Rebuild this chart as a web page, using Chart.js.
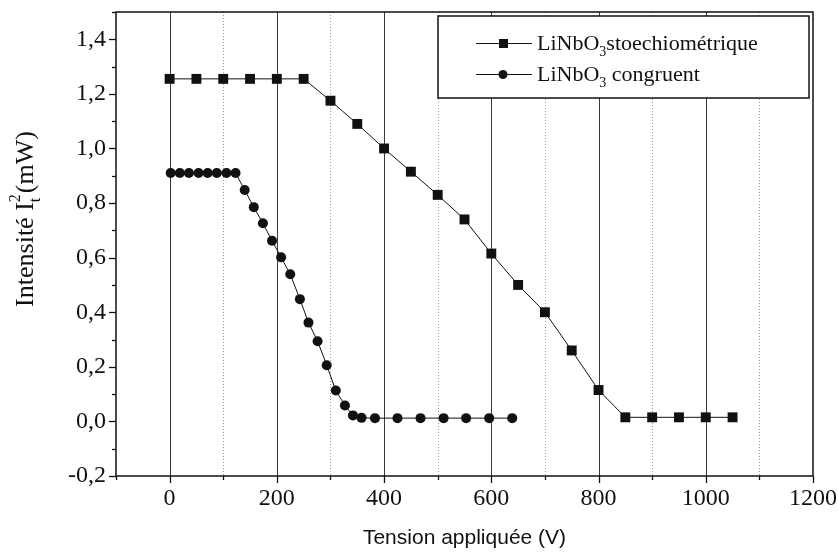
<!DOCTYPE html>
<html>
<head>
<meta charset="utf-8">
<script src="https://cdn.jsdelivr.net/npm/chart.js@4/dist/chart.umd.min.js"></script>
<style>
  html, body { margin: 0; padding: 0; background: #ffffff; }
  #wrap { width: 838px; height: 556px; position: relative; }
</style>
</head>
<body>
<div id="wrap"><canvas id="c" width="838" height="556"></canvas></div>
<script>
// ---- data ----
const seriesLabels = ['LiNbO₃stoechiométrique', 'LiNbO₃ congruent'];

const stoechVoltage = [0, 50, 100, 150, 200, 250, 300, 350, 400, 450, 500, 550,
                       600, 650, 700, 750, 800, 850, 900, 950, 1000, 1050];
const stoechIntensity = [1.255, 1.255, 1.255, 1.255, 1.255, 1.255, 1.175, 1.09, 1.0, 0.915, 0.83, 0.74,
                         0.615, 0.5, 0.4, 0.26, 0.115, 0.015, 0.015, 0.015, 0.015, 0.015];

const congruentVoltage = [2, 19, 36, 54, 71, 88, 106, 123, 140, 157, 174, 191, 208, 225, 243,
                          259, 276, 293, 310, 327, 342, 358, 383, 425, 468, 511, 553, 596, 639];
const congruentIntensity = [0.91, 0.91, 0.91, 0.91, 0.91, 0.91, 0.91, 0.91, 0.848, 0.785, 0.726, 0.662, 0.601, 0.539, 0.448,
                            0.362, 0.294, 0.206, 0.113, 0.058, 0.022, 0.013, 0.012, 0.012, 0.012, 0.012, 0.012, 0.012, 0.012];

const xTickValues = [0, 200, 400, 600, 800, 1000, 1200];
const xTickLabels = ['0', '200', '400', '600', '800', '1000', '1200'];
const yTickValues = [-0.2, 0, 0.2, 0.4, 0.6, 0.8, 1.0, 1.2, 1.4];
const yTickLabels = ['-0,2', '0,0', '0,2', '0,4', '0,6', '0,8', '1,0', '1,2', '1,4'];

const xTitle = 'Tension appliquée (V)';
const yTitleParts = ['Intensité I', '2', 't', '(mW)'];

// ---- helpers ----
function toPoints(xs, ys) { return xs.map((x, i) => ({ x: x, y: ys[i] })); }
function findLabel(values, labels, v) {
  for (let i = 0; i < values.length; i++) if (Math.abs(values[i] - v) < 1e-6) return labels[i];
  return null;
}
const INK = '#111111';
const SERIF = "'Liberation Serif', 'Times New Roman', serif";

// grid, frame and tick marks
const framePlugin = {
  id: 'framePlugin',
  beforeDatasetsDraw(chart) {
    const { ctx, chartArea: a, scales } = chart;
    const xs = scales.x, ys = scales.y;
    ctx.save();
    xs.ticks.forEach(t => {
      const v = t.value;
      if (v <= xs.min || v >= xs.max) return;
      const px = Math.round(xs.getPixelForValue(v)) + 0.5;
      const major = findLabel(xTickValues, xTickLabels, v) !== null;
      ctx.beginPath();
      if (major) { ctx.strokeStyle = '#3a3a3a'; ctx.lineWidth = 1; ctx.setLineDash([]); }
      else { ctx.strokeStyle = '#9a9a9a'; ctx.lineWidth = 1; ctx.setLineDash([1, 2]); }
      ctx.moveTo(px, a.top); ctx.lineTo(px, a.bottom); ctx.stroke();
    });
    ctx.setLineDash([]);
    ctx.strokeStyle = INK; ctx.lineWidth = 1.3;
    xs.ticks.forEach(t => {
      const v = t.value;
      const px = Math.round(xs.getPixelForValue(v)) + 0.5;
      const major = findLabel(xTickValues, xTickLabels, v) !== null;
      const len = major ? 7 : 4;
      ctx.beginPath(); ctx.moveTo(px, a.bottom); ctx.lineTo(px, a.bottom + len); ctx.stroke();
    });
    ys.ticks.forEach(t => {
      const v = t.value;
      const py = Math.round(ys.getPixelForValue(v)) + 0.5;
      const major = findLabel(yTickValues, yTickLabels, v) !== null;
      const len = major ? 7 : 4;
      ctx.beginPath(); ctx.moveTo(a.left, py); ctx.lineTo(a.left - len, py); ctx.stroke();
    });
    ctx.strokeStyle = INK; ctx.lineWidth = 1.5;
    ctx.strokeRect(a.left, a.top, a.right - a.left, a.bottom - a.top);
    ctx.restore();
  },
  afterDraw(chart) {
    const { ctx } = chart;
    ctx.save();
    // ---- y title with super/subscript ----
    ctx.translate(26, 219);
    ctx.rotate(-Math.PI / 2);
    ctx.fillStyle = INK;
    ctx.textBaseline = 'middle';
    const big = '26px ' + SERIF, small = '16px ' + SERIF;
    ctx.font = big;
    const w0 = ctx.measureText(yTitleParts[0]).width;
    ctx.font = small;
    const w1 = Math.max(ctx.measureText(yTitleParts[1]).width, ctx.measureText(yTitleParts[2]).width);
    ctx.font = big;
    const w3 = ctx.measureText(yTitleParts[3]).width;
    const total = w0 + w1 + 1 + w3;
    let x = -total / 2;
    ctx.textAlign = 'left';
    ctx.fillText(yTitleParts[0], x, 0); x += w0;
    ctx.font = small;
    ctx.fillText(yTitleParts[1], x, -10);
    ctx.fillText(yTitleParts[2], x, 10);
    x += w1 + 1;
    ctx.font = big;
    ctx.fillText(yTitleParts[3], x, 0);
    ctx.restore();

    // ---- legend box ----
    ctx.save();
    const bx = 438, by = 16, bw = 371, bh = 82;
    ctx.fillStyle = '#ffffff';
    ctx.fillRect(bx, by, bw, bh);
    ctx.strokeStyle = INK; ctx.lineWidth = 1.5;
    ctx.strokeRect(bx, by, bw, bh);
    const rows = [43, 74];
    chart.data.datasets.forEach((ds, i) => {
      const cy = rows[i];
      ctx.strokeStyle = INK; ctx.lineWidth = 1;
      ctx.beginPath(); ctx.moveTo(476, cy + 0.5); ctx.lineTo(532, cy + 0.5); ctx.stroke();
      ctx.fillStyle = INK;
      if (ds.pointStyle === 'rect') {
        ctx.fillRect(499, cy - 4, 9, 9);
      } else {
        ctx.beginPath(); ctx.arc(503, cy + 0.5, 4.5, 0, Math.PI * 2); ctx.fill();
      }
      const parts = ds.label.split('₃');
      ctx.textBaseline = 'alphabetic';
      ctx.textAlign = 'left';
      ctx.font = '22px ' + SERIF;
      let tx = 537;
      ctx.fillText(parts[0], tx, cy + 7);
      tx += ctx.measureText(parts[0]).width;
      ctx.font = '14px ' + SERIF;
      ctx.fillText('3', tx, cy + 13);
      tx += ctx.measureText('3').width;
      ctx.font = '22px ' + SERIF;
      ctx.fillText(parts[1], tx, cy + 7);
    });
    ctx.restore();
  }
};

new Chart(document.getElementById('c'), {
  type: 'scatter',
  data: {
    datasets: [
      {
        label: seriesLabels[0],
        data: toPoints(stoechVoltage, stoechIntensity),
        showLine: true,
        borderColor: INK,
        borderWidth: 1,
        backgroundColor: INK,
        pointStyle: 'rect',
        pointRadius: 7,
        pointBorderWidth: 0,
        pointBackgroundColor: INK,
        tension: 0
      },
      {
        label: seriesLabels[1],
        data: toPoints(congruentVoltage, congruentIntensity),
        showLine: true,
        borderColor: INK,
        borderWidth: 1,
        backgroundColor: INK,
        pointStyle: 'circle',
        pointRadius: 5,
        pointBorderWidth: 0,
        pointBackgroundColor: INK,
        tension: 0
      }
    ]
  },
  options: {
    responsive: false,
    animation: false,
    devicePixelRatio: 1,
    layout: { padding: { left: 0, right: 25, top: 12, bottom: 0 } },
    plugins: {
      legend: { display: false },
      tooltip: { enabled: false }
    },
    scales: {
      x: {
        type: 'linear',
        min: -100, max: 1200,
        border: { display: false },
        grid: { display: false, drawTicks: false },
        ticks: {
          stepSize: 100,
          autoSkip: false,
          maxRotation: 0,
          padding: 8,
          color: INK,
          font: { family: SERIF, size: 24 },
          callback: (v) => { const l = findLabel(xTickValues, xTickLabels, v); return l === null ? '' : l; }
        },
        title: {
          display: true,
          text: xTitle,
          color: INK,
          font: { family: "'Liberation Sans', Arial, sans-serif", size: 21 },
          padding: { top: 0, bottom: 5 }
        },
        afterFit: (s) => { s.height = 80; s.paddingLeft = 0; s.paddingRight = 0; }
      },
      y: {
        type: 'linear',
        min: -0.2, max: 1.5,
        border: { display: false },
        grid: { display: false, drawTicks: false },
        ticks: {
          stepSize: 0.1,
          autoSkip: false,
          padding: 10,
          color: INK,
          font: { family: SERIF, size: 24 },
          callback: (v) => { const l = findLabel(yTickValues, yTickLabels, v); return l === null ? '' : l; }
        },
        afterFit: (s) => { s.width = 116; s.paddingTop = 0; s.paddingBottom = 0; }
      }
    }
  },
  plugins: [framePlugin]
});
</script>
</body>
</html>
